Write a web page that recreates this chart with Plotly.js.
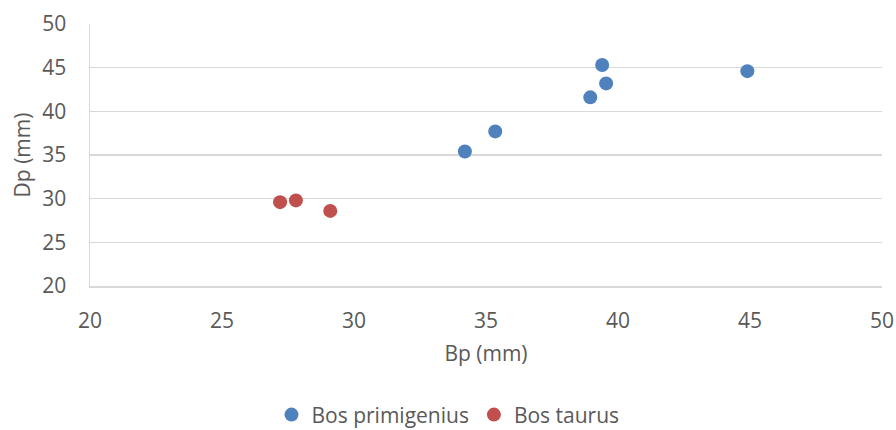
<!DOCTYPE html>
<html><head><meta charset="utf-8">
<script src="https://cdn.plot.ly/plotly-3.0.1.min.js"></script>
<style>html,body{margin:0;padding:0;background:#fff}</style>
</head><body>
<div id="chart" style="width:896px;height:430px"></div>
<script>
const primigeniusBp = [39.4, 39.55, 38.95, 44.9, 35.35, 34.2];
const primigeniusDp = [45.3, 43.2, 41.6, 44.6, 37.7, 35.4];
const taurusBp = [27.2, 27.8, 29.1];
const taurusDp = [29.6, 29.8, 28.6];
const seriesNames = ['Bos primigenius', 'Bos taurus'];
const font = '"Open Sans", sans-serif';
const traces = [
  {x: primigeniusBp, y: primigeniusDp, name: seriesNames[0], type: 'scatter', mode: 'markers',
   marker: {color: '#4F81BD', size: 14}},
  {x: taurusBp, y: taurusDp, name: seriesNames[1], type: 'scatter', mode: 'markers',
   marker: {color: '#C0504D', size: 14}}
];
const layout = {
  width: 896, height: 430,
  margin: {l: 90, r: 14, t: 24, b: 144, autoexpand: false},
  paper_bgcolor: '#fff', plot_bgcolor: '#fff',
  font: {family: font, size: 21, color: '#595959'},
  xaxis: {range: [20, 50], dtick: 5, showgrid: false, zeroline: false,
    showline: true, linecolor: '#D9D9D9', linewidth: 1.5, ticks: '',
    ticklabelstandoff: 15,
    title: {text: 'Bp (mm)', font: {size: 21, color: '#595959'}, standoff: 13}},
  yaxis: {range: [20, 50], dtick: 5, showgrid: true, gridcolor: '#D9D9D9', gridwidth: 1.5,
    zeroline: false, showline: true, linecolor: '#D9D9D9', linewidth: 1.5, ticks: '',
    ticklabelstandoff: 18,
    title: {text: 'Dp (mm)', font: {size: 21, color: '#595959'}, standoff: 6}},
  showlegend: true,
  legend: {orientation: 'h', xref: 'container', x: 0.5, xanchor: 'center', yref: 'container', y: 0.035, yanchor: 'middle',
    font: {size: 21, color: '#595959'}, itemwidth: 20, tracegroupgap: 0}
};
Plotly.newPlot('chart', traces, layout, {displayModeBar: false, staticPlot: true});
</script>
</body></html>
